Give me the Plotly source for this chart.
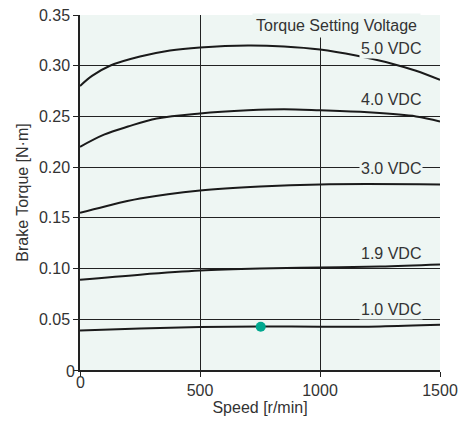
import plotly.graph_objects as go

FONT = "Liberation Sans, Arial, sans-serif"

speed_50 = [0, 50, 125, 250, 375, 500, 700, 850, 1000, 1150, 1300, 1400, 1500]
torque_50 = [0.280, 0.290, 0.300, 0.309, 0.315, 0.318, 0.320, 0.319, 0.316, 0.310, 0.302, 0.295, 0.286]

speed_40 = [0, 100, 200, 320, 500, 700, 850, 1000, 1200, 1400, 1500]
torque_40 = [0.220, 0.232, 0.240, 0.248, 0.253, 0.256, 0.257, 0.256, 0.254, 0.250, 0.245]

speed_30 = [0, 100, 250, 500, 750, 1000, 1500]
torque_30 = [0.155, 0.161, 0.169, 0.177, 0.181, 0.183, 0.183]

speed_19 = [0, 250, 500, 750, 1000, 1250, 1500]
torque_19 = [0.089, 0.094, 0.098, 0.100, 0.101, 0.102, 0.104]

speed_10 = [0, 250, 500, 750, 1000, 1250, 1500]
torque_10 = [0.039, 0.041, 0.0425, 0.043, 0.0427, 0.043, 0.0445]

marker_speed = [753]
marker_torque = [0.0427]

x_ticks = [0, 500, 1000, 1500]
y_ticks = [0, 0.05, 0.10, 0.15, 0.20, 0.25, 0.30, 0.35]
y_ticklabels = ["", "0.05", "0.10", "0.15", "0.20", "0.25", "0.30", "0.35"]
x_ticklabels = ["", "500", "1000", "1500"]
y_grid = [0.05, 0.10, 0.15, 0.20, 0.25, 0.30]
x_grid = [500, 1000]

series = [
    (speed_50, torque_50, "5.0 VDC", 0.3165),
    (speed_40, torque_40, "4.0 VDC", 0.267),
    (speed_30, torque_30, "3.0 VDC", 0.199),
    (speed_19, torque_19, "1.9 VDC", 0.115),
    (speed_10, torque_10, "1.0 VDC", 0.060),
]

BG = "#EEF6F3"
LINE = "#222222"
TXT = "#333333"

fig = go.Figure()
fig.add_trace(go.Scatter(x=[0, 1500], y=[0, 0.35], xaxis="x2", yaxis="y2",
                         mode="markers", marker=dict(opacity=0), hoverinfo="skip", showlegend=False))
for sx, sy, name, ly in series:
    fig.add_trace(go.Scatter(x=sx, y=sy, mode="lines",
                             line=dict(color="#1a1a1a", width=2, shape="spline", smoothing=1.0),
                             name=name, showlegend=False))
fig.add_trace(go.Scatter(x=marker_speed, y=marker_torque, mode="markers",
                         marker=dict(color="#00A88F", size=10), showlegend=False))

annotations = []
annotations.append(dict(x=1422, y=0.340, xref="x", yref="y", text="Torque Setting Voltage", showarrow=False,
                        xanchor="right", yanchor="middle", font=dict(family=FONT, size=16, color=TXT),
                        bgcolor=BG, borderpad=3))
for sx, sy, name, ly in series:
    annotations.append(dict(x=1431, y=ly, xref="x", yref="y", text=name, showarrow=False,
                            xanchor="right", yanchor="middle", font=dict(family=FONT, size=16, color=TXT),
                            bgcolor=BG, borderpad=1))
annotations.append(dict(x=0, y=0, xref="x", yref="y", text="0", showarrow=False, xanchor="center", yanchor="middle",
                        yshift=-12, font=dict(family=FONT, size=16, color=TXT)))
annotations.append(dict(x=0, y=0, xref="x", yref="y", text="0", showarrow=False, xanchor="right", yanchor="middle",
                        xshift=-3, yshift=-1, font=dict(family=FONT, size=16, color=TXT)))

fig.update_layout(
    width=462, height=421,
    margin=dict(l=80, r=22, t=15, b=51),
    paper_bgcolor="white",
    plot_bgcolor=BG,
    font=dict(family=FONT, size=16, color=TXT),
    xaxis=dict(range=[0, 1500], tickvals=x_ticks, ticktext=x_ticklabels, ticks="outside", ticklen=5,
               tickcolor=LINE, showline=True, linecolor=LINE, linewidth=1.5, showgrid=False, zeroline=False,
               automargin=False,
               title=dict(text="Speed [r/min]", font=dict(size=16), standoff=2),
               tickfont=dict(size=16)),
    yaxis=dict(range=[0, 0.35], tickvals=y_ticks, ticktext=y_ticklabels, ticks="outside", ticklen=5,
               tickcolor=LINE, showline=True, linecolor=LINE, linewidth=1.5, showgrid=False, zeroline=False,
               automargin=False,
               title=dict(text="Brake Torque [N·m]", font=dict(size=16), standoff=6),
               tickfont=dict(size=16)),
    xaxis2=dict(range=[0, 1500], overlaying="x", tickvals=x_grid, showticklabels=False, ticks="",
                showgrid=True, gridcolor=LINE, gridwidth=1.3, zeroline=False, showline=False, automargin=False),
    yaxis2=dict(range=[0, 0.35], overlaying="y", tickvals=y_grid, showticklabels=False, ticks="",
                showgrid=True, gridcolor=LINE, gridwidth=1.3, zeroline=False, showline=False, automargin=False),
    annotations=annotations,
)

fig.write_html("out.html", config={"displayModeBar": False},
               post_script="document.body.style.margin='0';document.body.style.overflow='hidden';")
